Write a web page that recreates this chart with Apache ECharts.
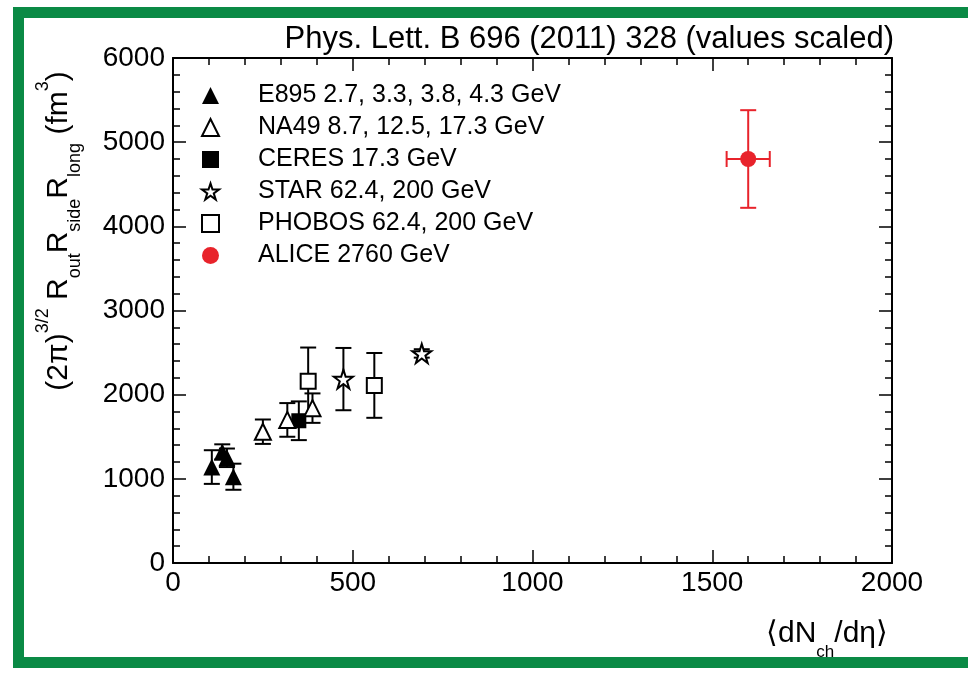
<!DOCTYPE html>
<html>
<head>
<meta charset="utf-8">
<script src="https://cdn.jsdelivr.net/npm/echarts@6/dist/echarts.min.js"></script>
<style>html,body{margin:0;padding:0;background:#fff}#c{width:968px;height:678px}</style>
</head>
<body>
<div id="c"></div>
<script>
// ---- data ----
const e895X = [108, 137, 150, 168];
const e895Y = [1140, 1320, 1250, 1025];
const e895Err = [200, 90, 110, 155];

const na49X = [250, 318, 388];
const na49Y = [1560, 1700, 1840];
const na49Err = [145, 200, 175];

const ceresX = [350];
const ceresY = [1690];
const ceresErr = [230];

const starX = [474, 692];
const starY = [2185, 2490];
const starErr = [370, 50];

const phobosX = [376, 560];
const phobosY = [2160, 2110];
const phobosErr = [400, 385];

const aliceX = [1600];
const aliceY = [4800];
const aliceYErr = [580];
const aliceXErr = [60];

const xTicks = [0, 500, 1000, 1500, 2000];
const yTicks = [0, 1000, 2000, 3000, 4000, 5000, 6000];

const legendNames = ['E895 2.7, 3.3, 3.8, 4.3 GeV', 'NA49 8.7, 12.5, 17.3 GeV', 'CERES 17.3 GeV',
  'STAR 62.4, 200 GeV', 'PHOBOS 62.4, 200 GeV', 'ALICE 2760 GeV'];

const FONT = '"Liberation Sans", Arial, Helvetica, sans-serif';
const RED = '#e8232b';
const STAR = 'path://M50,0 L61.8,36.2 L100,36.2 L69.1,58.6 L80.9,95 L50,72.4 L19.1,95 L30.9,58.6 L0,36.2 L38.2,36.2 Z';

function pts(xs, ys, ex, exx) {
  return xs.map((x, i) => [x, ys[i], ex[i], exx ? exx[i] : 0]);
}
const errData = [].concat(
  pts(e895X, e895Y, e895Err), pts(na49X, na49Y, na49Err), pts(ceresX, ceresY, ceresErr),
  pts(starX, starY, starErr), pts(phobosX, phobosY, phobosErr)
);
const aliceErrData = pts(aliceX, aliceY, aliceYErr, aliceXErr);

function errRender(color, cap) {
  return function (params, api) {
    const x = api.value(0), y = api.value(1), ey = api.value(2), ex = api.value(3);
    const c = api.coord([x, y]);
    const top = api.coord([x, y + ey]);
    const bot = api.coord([x, y - ey]);
    const st = { stroke: color, lineWidth: 2 };
    const children = [];
    if (ey > 0) {
      children.push({ type: 'line', shape: { x1: c[0], y1: top[1], x2: c[0], y2: bot[1] }, style: st });
      children.push({ type: 'line', shape: { x1: c[0] - cap, y1: top[1], x2: c[0] + cap, y2: top[1] }, style: st });
      children.push({ type: 'line', shape: { x1: c[0] - cap, y1: bot[1], x2: c[0] + cap, y2: bot[1] }, style: st });
    }
    if (ex > 0) {
      const l = api.coord([x - ex, y]), r = api.coord([x + ex, y]);
      children.push({ type: 'line', shape: { x1: l[0], y1: c[1], x2: r[0], y2: c[1] }, style: st });
      children.push({ type: 'line', shape: { x1: l[0], y1: c[1] - cap, x2: l[0], y2: c[1] + cap }, style: st });
      children.push({ type: 'line', shape: { x1: r[0], y1: c[1] - cap, x2: r[0], y2: c[1] + cap }, style: st });
    }
    return { type: 'group', children };
  };
}

function axisCommon() {
  return {
    type: 'value',
    axisLine: { show: true, onZero: false, lineStyle: { color: '#000', width: 2 } },
    axisTick: { show: true, inside: true, length: 13, lineStyle: { color: '#000', width: 1.5 } },
    minorTick: { show: true, splitNumber: 5, length: 7, lineStyle: { color: '#000', width: 1.5 } },
    splitLine: { show: false },
    minorSplitLine: { show: false }
  };
}
const fmt = v => String(v);

const chart = echarts.init(document.getElementById('c'), null, { renderer: 'canvas' });
chart.setOption({
  animation: false,
  backgroundColor: '#fff',
  textStyle: { fontFamily: FONT },
  title: {
    text: 'Phys. Lett. B 696 (2011) 328 (values scaled)',
    right: 74, top: 24, padding: 0,
    textStyle: { fontSize: 31, fontWeight: 'normal', color: '#000', fontFamily: FONT }
  },
  grid: { left: 173, right: 76, top: 58, bottom: 115, containLabel: false },
  xAxis: [
    Object.assign(axisCommon(), {
      position: 'bottom', min: xTicks[0], max: xTicks[xTicks.length - 1], interval: xTicks[1] - xTicks[0],
      axisLabel: { color: '#000', fontSize: 28, margin: 6, fontFamily: FONT, formatter: fmt }
    }),
    Object.assign(axisCommon(), {
      position: 'top', min: xTicks[0], max: xTicks[xTicks.length - 1], interval: xTicks[1] - xTicks[0],
      axisLabel: { show: false }
    })
  ],
  yAxis: [
    Object.assign(axisCommon(), {
      position: 'left', min: yTicks[0], max: yTicks[yTicks.length - 1], interval: yTicks[1] - yTicks[0],
      axisLabel: { color: '#000', fontSize: 28, margin: 8, fontFamily: FONT, formatter: fmt }
    }),
    Object.assign(axisCommon(), {
      position: 'right', min: yTicks[0], max: yTicks[yTicks.length - 1], interval: yTicks[1] - yTicks[0],
      axisLabel: { show: false }
    })
  ],
  legend: {
    orient: 'vertical', left: 196, top: 78,
    itemWidth: 17, itemHeight: 17, itemGap: 7,
    data: legendNames,
    textStyle: { fontSize: 25, color: '#000', fontFamily: FONT, lineHeight: 17, padding: [0, 0, 0, 34] }
  },
  graphic: [
    {
      type: 'rect', silent: true, z: -10,
      shape: { x: 18.5, y: 12.5, width: 980, height: 650 },
      style: { fill: 'none', stroke: '#0a8a45', lineWidth: 11 }
    },
    {
      type: 'text', x: 59, y: 231, rotation: Math.PI / 2,
      style: {
        text: '(2π){sup|3/2} R{sub|out}R{sub|side}R{sub|long} (fm{sup|3})',
        align: 'center', verticalAlign: 'middle',
        font: '30px ' + FONT, fill: '#000',
        rich: {
          sup: { fontSize: 18, lineHeight: 50, verticalAlign: 'top', fontFamily: FONT, fill: '#000' },
          sub: { fontSize: 18, lineHeight: 50, verticalAlign: 'bottom', fontFamily: FONT, fill: '#000' }
        }
      }
    },
    {
      type: 'text', x: 888, y: 634,
      style: {
        text: '⟨dN{sub|ch}/dη⟩',
        align: 'right', verticalAlign: 'middle',
        font: '30px ' + FONT, fill: '#000',
        rich: {
          sub: { fontSize: 17, lineHeight: 53, verticalAlign: 'bottom', fontFamily: FONT, fill: '#000' }
        }
      }
    }
  ],
  series: [
    {
      type: 'custom', name: 'errors', z: 2, renderItem: errRender('#000', 8),
      data: errData, encode: { x: 0, y: 1 }, silent: true
    },
    {
      type: 'custom', name: 'aliceErrors', z: 2, renderItem: errRender(RED, 8),
      data: aliceErrData, encode: { x: 0, y: 1 }, silent: true
    },
    {
      type: 'scatter', name: legendNames[0], z: 3, symbol: 'triangle', symbolSize: 17,
      itemStyle: { color: '#000', borderColor: '#000', borderWidth: 0, opacity: 1 },
      data: e895X.map((x, i) => [x, e895Y[i]])
    },
    {
      type: 'scatter', name: legendNames[1], z: 4, symbol: 'triangle', symbolSize: 16,
      itemStyle: { color: '#fff', borderColor: '#000', borderWidth: 2, opacity: 1 },
      data: na49X.map((x, i) => [x, na49Y[i]])
    },
    {
      type: 'scatter', name: legendNames[2], z: 3, symbol: 'rect', symbolSize: 15,
      itemStyle: { color: '#000', borderColor: '#000', borderWidth: 0, opacity: 1 },
      data: ceresX.map((x, i) => [x, ceresY[i]])
    },
    {
      type: 'scatter', name: legendNames[3], z: 4, symbol: STAR, symbolSize: 19,
      itemStyle: { color: '#fff', borderColor: '#000', borderWidth: 2, opacity: 1 },
      data: starX.map((x, i) => [x, starY[i]])
    },
    {
      type: 'scatter', name: legendNames[4], z: 4, symbol: 'rect', symbolSize: 15,
      itemStyle: { color: '#fff', borderColor: '#000', borderWidth: 2, opacity: 1 },
      data: phobosX.map((x, i) => [x, phobosY[i]])
    },
    {
      type: 'scatter', name: legendNames[5], z: 4, symbol: 'circle', symbolSize: 16,
      itemStyle: { color: RED, borderWidth: 0, opacity: 1 },
      data: aliceX.map((x, i) => [x, aliceY[i]])
    }
  ]
});
</script>
</body>
</html>
